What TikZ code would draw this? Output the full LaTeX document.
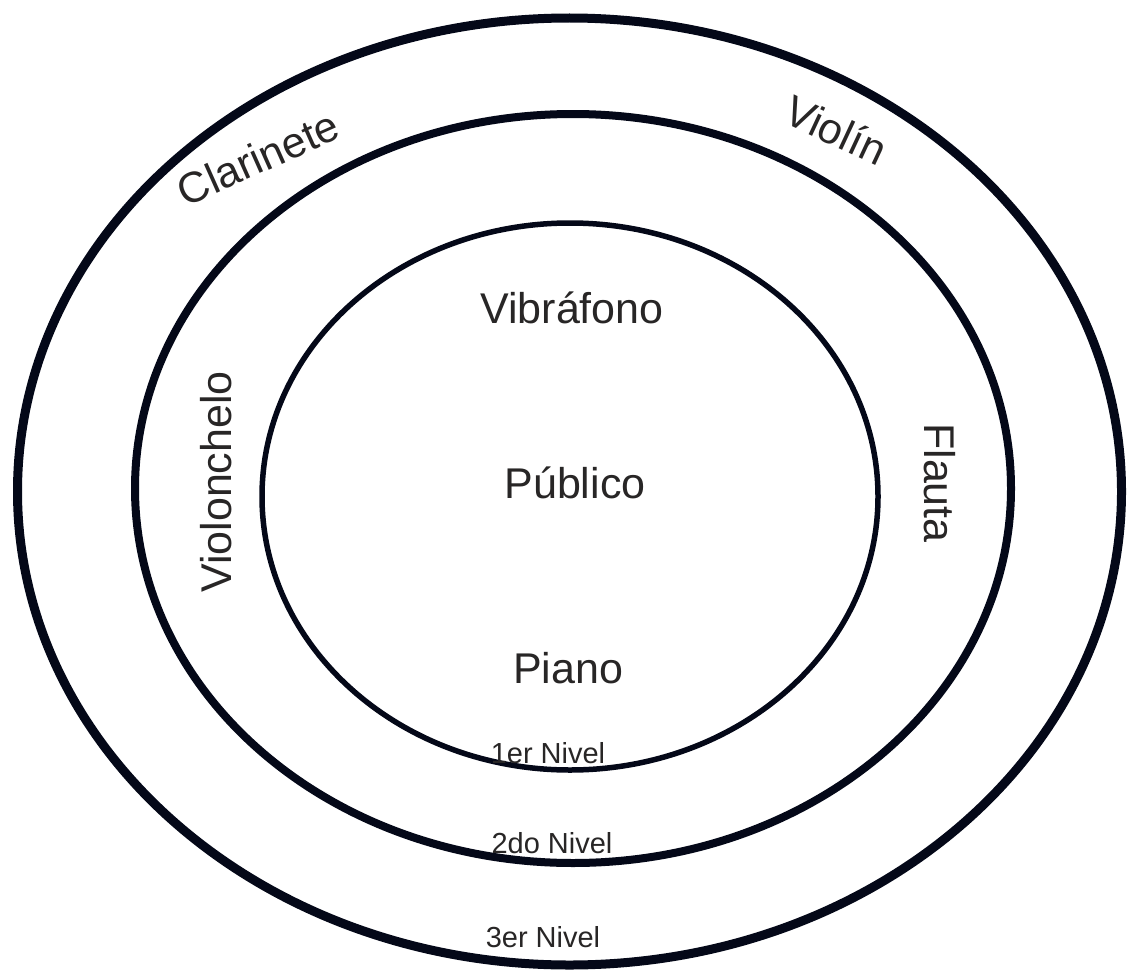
\documentclass[tikz,border=0pt]{standalone}
\usepackage{fontspec}
\setmainfont{Liberation Sans}
\definecolor{ringcol}{RGB}{4,8,24}
\definecolor{txtcol}{RGB}{40,38,38}

\begin{document}
\begin{tikzpicture}[x=1pt, y=-1pt,
    ring/.style = {draw=ringcol},
    big/.style = {text=txtcol, inner sep=0pt, font=\fontsize{43}{50}\selectfont},
    small/.style = {text=txtcol, inner sep=0pt, anchor=base,
        font=\fontsize{29}{34}\selectfont}]
      \useasboundingbox (0,0) rectangle (1129,974);
      \draw[ring, line width=9pt] (569.5,491.5) ellipse [x radius=552, y radius=473.5];
      \draw[ring, line width=8pt] (573,488.5) ellipse [x radius=438, y radius=374.5];
      \draw[ring, line width=5.5pt] (570,496.5) ellipse [x radius=308, y radius=273.5];
      \node (vib) [big, anchor=base] at (572,323) {Vibráfono};
      \node (pub) [big, anchor=base] at (575,498) {Público};
      \node (pia) [big, anchor=base] at (568,683) {Piano};
      \node (vch) [big, rotate=90] at (216,482) {Violonchelo};
      \node (fla) [big, rotate=-90] at (940,483) {Flauta};
      \node (cla) [big, rotate=24] at (258,158) {Clarinete};
      \node (vln) [big, rotate=-25] at (836,130) {Violín};
      \node (n1) [small] at (548,763) {1er Nivel};
      \node (n2) [small] at (552,853) {2do Nivel};
      \node (n3) [small] at (543,947) {3er Nivel};
    \end{tikzpicture}
\end{document}
